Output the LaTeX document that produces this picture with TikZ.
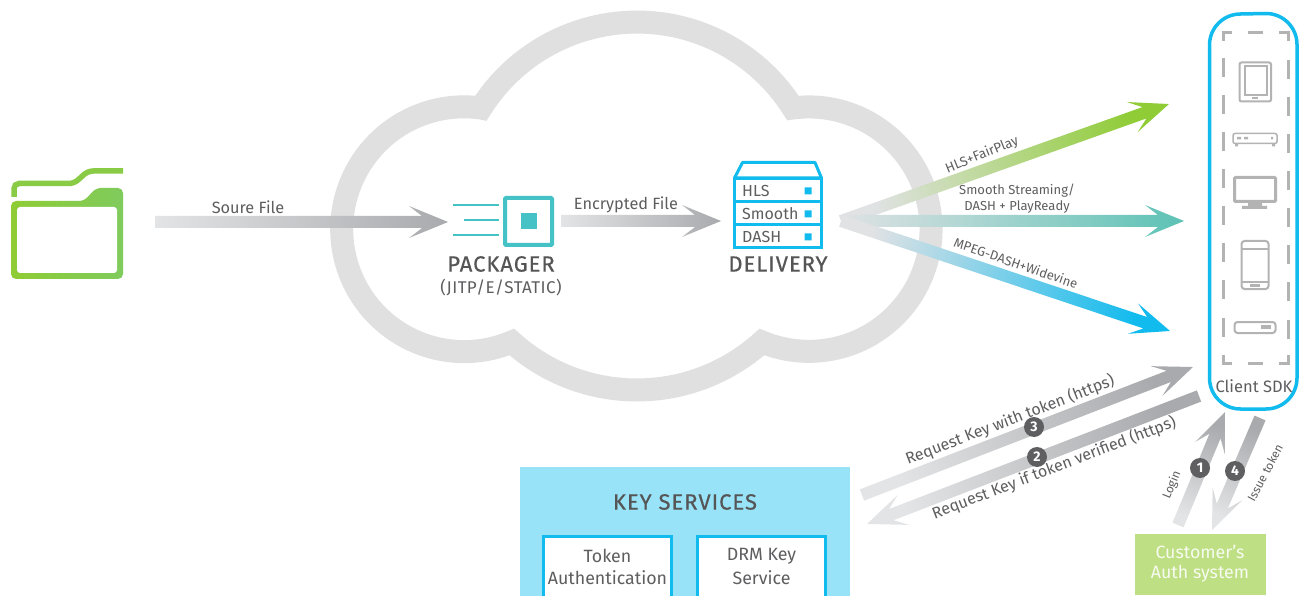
\documentclass[tikz,border=0pt]{standalone}
\usepackage{fontspec}
\usetikzlibrary{calc}
\setmainfont{Fira Sans}
\definecolor{txt}{HTML}{5E5E60}
\definecolor{cloudgray}{HTML}{E0E0E0}
\definecolor{skyb}{HTML}{12BBEE}
\definecolor{tealc}{HTML}{44C2C6}
\definecolor{icong}{HTML}{B3B3B3}
\definecolor{gstart}{HTML}{E3E4E6}
\definecolor{gend}{HTML}{A9AAAD}
\definecolor{fanstart}{HTML}{E0E2E4}
\definecolor{fangreen}{HTML}{8FCC35}
\definecolor{fanteal}{HTML}{5CC2B5}
\definecolor{badgec}{HTML}{5F5F61}
\definecolor{authg}{HTML}{BEDF83}
\definecolor{keyb}{HTML}{99E3F9}
\definecolor{foldl}{HTML}{8FCC35}
\definecolor{foldr}{HTML}{7FCB5C}
\newcommand{\fs}[1]{\fontsize{#1}{#1}\selectfont}
\newcommand{\gradarrow}[4]{%
  \path let \p1=(#1),\p2=(#2) in \pgfextra{%
    \pgfmathsetmacro{\gAngTmp}{atan2(\y2-\y1,\x2-\x1)}%
    \pgfmathsetmacro{\gLenTmp}{veclen(\x2-\x1,\y2-\y1)}%
    \global\let\gAng\gAngTmp\global\let\gLen\gLenTmp};
  \pgfmathsetmacro{\gShade}{\gAng-90}%
  \shade[shift={(#1)},rotate=\gAng,bottom color=#3,top color=#4,shading angle=\gShade]
    (0,-6) -- ({\gLen-26},-6) -- ({\gLen-39},-16) -- ({\gLen},0)
    -- ({\gLen-39},16) -- ({\gLen-26},6) -- (0,6) -- cycle;
}
\tikzset{
  lbl/.style={text=txt,inner sep=0pt,align=center},
  head/.style={lbl,text=txt!90!black,font=\fs{22}\addfontfeature{LetterSpace=4.5,FakeBold=0.5}},
  badge/.style={circle,fill=badgec,text=white,minimum size=20pt,inner sep=0pt,font=\fs{14}\bfseries},
  rowbox/.style={draw=skyb,line width=3pt,fill=white,inner sep=0pt,minimum width=87pt,anchor=north west},
  svc/.style={draw=skyb,line width=3pt,fill=white,inner sep=0pt,minimum width=128.5pt,minimum height=70pt,anchor=north west},
  icon/.style={draw=icong,line width=2pt,rounded corners=2pt},
  dashpart/.style={draw=icong,line width=3pt},
}
\begin{document}
\begin{tikzpicture}[x=1pt,y=-1pt]
\useasboundingbox (0,0) rectangle (1299,596);
\clip (0,0) rectangle (1299,596);
\fill[white] (0,0) rectangle (1299,596);

% cloud
\draw[cloudgray,line width=23pt,miter limit=10] (481,108)
  arc[start angle=147.7,end angle=32.3,radius=184.5pt]
  arc[start angle=97.5,end angle=-112.6,radius=122.2pt]
  arc[start angle=-48,end angle=-132,radius=186.9pt]
  arc[start angle=-67.1,end angle=-277.8,radius=122.4pt] -- cycle;

% folder
\draw[foldl!60!foldr,line width=5.5pt,rounded corners=5pt] (14,197) -- (14,183.5) -- (74,183.5) -- (88,171) -- (123,171);
\shade[left color=foldl,right color=foldr,rounded corners=5pt]
  (11,279) -- (11,201) -- (84,201) -- (96,188) -- (123,188) -- (123,279) -- cycle;
\fill[white,rounded corners=3pt] (17,207) rectangle (117,273);

% coordinates of connector ends
\coordinate (srcS) at (155,222);  \coordinate (srcT) at (448,222);
\coordinate (encS) at (561,221);  \coordinate (encT) at (721,221);
\coordinate (fan) at (841,221);
\coordinate (hlsT) at (1169,104);
\coordinate (smT) at (1184,221);
\coordinate (mpT) at (1170,331);
\coordinate (reqS) at (862,495); \coordinate (reqT) at (1193,367);
\coordinate (ansS) at (1199,396); \coordinate (ansT) at (867,524);
\coordinate (logS) at (1178,525); \coordinate (logT) at (1225,412);
\coordinate (issS) at (1260,418); \coordinate (issT) at (1212,530);

\gradarrow{srcS}{srcT}{gstart}{gend}
\gradarrow{encS}{encT}{gstart}{gend}
\gradarrow{fan}{hlsT}{fanstart}{fangreen}
\gradarrow{fan}{smT}{fanstart}{fanteal}
\gradarrow{fan}{mpT}{fanstart}{skyb}
\gradarrow{reqS}{reqT}{gstart}{gend}
\gradarrow{ansS}{ansT}{gend}{gstart}
\gradarrow{logS}{logT}{gstart}{gend}
\gradarrow{issS}{issT}{gend}{gstart}

\node[lbl,font=\fs{16.3}] (srcL) at (248,207) {Soure File};
\node[lbl,font=\fs{16.3}] (encL) at (626,205) {Encrypted File};

% packager
\draw[tealc,line width=4pt,rounded corners=1pt] (505,198) rectangle (552,245);
\fill[tealc] (521,213) rectangle (537,229);
\draw[tealc,line width=2.5pt] (453,205) -- (499,205) (464,220) -- (499,220) (453,235) -- (499,235);
\node[head] (pack) at (501,264) {PACKAGER};
\node[lbl,font=\fs{17}\addfontfeature{LetterSpace=2.5}] (packs) at (501,288) {(JITP/E/STATIC)};

% delivery
\draw[skyb,line width=3pt,line join=round] (734.5,178) -- (742.5,162.5) -- (815,162.5) -- (821.5,178) -- cycle;
\node[rowbox,minimum height=23.5pt] (hls) at (733,177) {};
\node[rowbox,minimum height=23pt] (smo) at (733,200.5) {};
\node[rowbox,minimum height=23pt] (das) at (733,223.5) {};
\fill[skyb] (804.5,187.5) rectangle (811.5,194.5) (804.5,210.5) rectangle (811.5,217.5) (804.5,233.5) rectangle (811.5,240.5);
\node[lbl,anchor=west,font=\fs{16}] (hlsL) at (742,190.5) {HLS};
\node[lbl,anchor=west,font=\fs{16}] (smoL) at (742,213.5) {Smooth};
\node[lbl,anchor=west,font=\fs{16}] (dasL) at (742,236.5) {DASH};
\node[head] (deli) at (778,264) {DELIVERY};

% fan labels
\node[lbl,font=\fs{13.5},rotate=22] (f1) at (982,155) {HLS+FairPlay};
\node[lbl,font=\fs{13}] (f2a) at (1017,191) {Smooth Streaming/};
\node[lbl,font=\fs{13}] (f2b) at (1017,207) {DASH + PlayReady};
\node[lbl,font=\fs{13},rotate=-19] (f3) at (1016,263) {MPEG-DASH+Widevine};

% client SDK
\draw[skyb,line width=3.5pt] (1209.5,45) arc[start angle=180,end angle=90,radius=31pt] -- (1266,13.5) arc[start angle=90,end angle=0,radius=31pt]
  -- (1297,378) arc[start angle=0,end angle=-90,radius=31pt] -- (1240.5,409) arc[start angle=270,end angle=180,radius=31pt] -- cycle;
\node[lbl,font=\fs{16.5}] (sdk) at (1254,386) {Client SDK};
% dashed frame
\draw[dashpart] (1223,41) -- (1223,33) -- (1232,33);
\draw[dashpart] (1279,33) -- (1288,33) -- (1288,41);
\draw[dashpart] (1223,355) -- (1223,363) -- (1232,363);
\draw[dashpart] (1279,363) -- (1288,363) -- (1288,355);
\draw[dashpart] (1248,33) -- (1263,33) (1248,363) -- (1263,363);
\foreach \yy in {58,95,132,169,206,243,280,318}{
  \draw[dashpart] (1223,\yy) -- (1223,\yy+19);
  \draw[dashpart] (1288,\yy+2) -- (1288,\yy+21);
}
% tablet
\draw[icon] (1239.5,62.5) rectangle (1271,101.5);
\draw[icon,rounded corners=0pt] (1244.5,66.5) rectangle (1266.5,95);
\fill[icong] (1252,97) rectangle (1258,99.5);
% set-top box
\draw[icon,line width=1.5pt] (1233,133.5) rectangle (1277,143.5);
\fill[icong] (1237,137) rectangle (1241,139.5) (1244,137) rectangle (1248,139.5) (1271,137) rectangle (1273,139.5);
\fill[icong] (1235,144) rectangle (1238,146.5) (1272,144) rectangle (1275,146.5);
% monitor
\draw[icon,line width=3pt,rounded corners=1pt] (1234.5,177.5) rectangle (1275.5,201.5);
\fill[icong] (1248,202) rectangle (1262,206) (1242,206) rectangle (1267,209);
% phone
\draw[icon,rounded corners=3pt] (1241.5,241) rectangle (1268.5,289);
\draw[icong,line width=1.5pt] (1241.5,249) -- (1268.5,249) (1241.5,282) -- (1268.5,282);
\fill[icong] (1250,284) rectangle (1260,287);
% box
\draw[icon,rounded corners=3pt] (1234.5,322) rectangle (1275.5,333);
\fill[icong] (1261,325) rectangle (1271,329);

% badges and lower labels
\node[badge] (b3) at (1034,427) {3};
\node[badge] (b2) at (1037,457) {2};
\node[badge] (b1) at (1200,468) {1};
\node[badge] (b4) at (1235,471) {4};
\node[lbl,font=\fs{16},rotate=21] (r3) at (1010,420) {Request Key with token (https)};
\node[lbl,font=\fs{16},rotate=21] (r2) at (1054,468) {Request Key if token verified (https)};
\node[lbl,font=\fs{12},rotate=68] (lg) at (1172,485) {Login};
\node[lbl,font=\fs{12},rotate=62] (it) at (1265,473) {Issue token};

% auth
\node[fill=authg,minimum width=131pt,minimum height=61pt,inner sep=0pt,anchor=north west] (auth) at (1135,534) {};
\node[inner sep=0pt,text=white!88!authg,font=\fs{17.8}] (a1) at (1200,552) {Customer's};
\node[inner sep=0pt,text=white!88!authg,font=\fs{17.8}] (a2) at (1200,574) {Auth system};

% key services
\node[fill=keyb,minimum width=330pt,minimum height=135pt,inner sep=0pt,anchor=north west] (key) at (520,467) {};
\node[head] (keyL) at (685,502) {KEY SERVICES};
\node[svc] (tok) at (541.5,534.5) {};
\node[svc] (drm) at (695.5,534.5) {};
\node[lbl,font=\fs{17.8}] (t1) at (607.5,556) {Token};
\node[lbl,font=\fs{17.8}] (t2) at (607.5,578) {Authentication};
\node[lbl,font=\fs{17.8}] (d1) at (761.5,556) {DRM Key};
\node[lbl,font=\fs{17.8}] (d2) at (761.5,578) {Service};
\end{tikzpicture}
\end{document}
